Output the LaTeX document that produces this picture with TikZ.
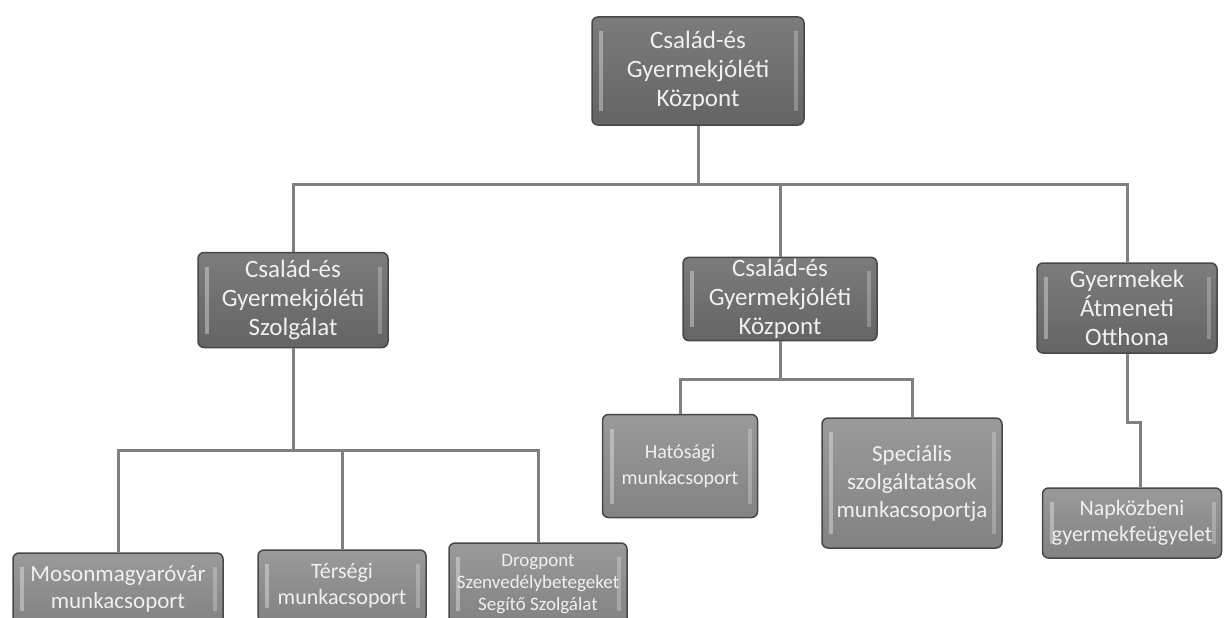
\documentclass[tikz,border=0pt]{standalone}
\usepackage{fontspec}
\setmainfont{Carlito}
\usepackage{tikz}
\definecolor{OrgEdge}{RGB}{72,72,72}
\definecolor{OrgDark}{RGB}{100,100,100}
\definecolor{OrgDarkTop}{RGB}{124,124,124}
\definecolor{OrgLight}{RGB}{130,130,130}
\definecolor{OrgLightTop}{RGB}{154,154,154}
\definecolor{OrgLine}{RGB}{128,128,128}
\definecolor{OrgText}{RGB}{240,240,240}

\begin{document}
\begin{tikzpicture}[x=1pt,y=-1pt,
    gloss/.style={path picture={
      \fill[white,opacity=.35,sharp corners] ([xshift=7pt,yshift=-14pt]path picture bounding box.north west)
        rectangle ([xshift=11pt,yshift=14pt]path picture bounding box.south west);
      \fill[white,opacity=.25,sharp corners] ([xshift=-10pt,yshift=-14pt]path picture bounding box.north east)
        rectangle ([xshift=-6pt,yshift=14pt]path picture bounding box.south east);}},
    unitbox/.style={gloss,draw=OrgEdge,line width=1.5pt,rounded corners=6pt,top color=OrgDarkTop,bottom color=OrgDark,
      text=OrgText,align=center,inner sep=2pt,font=\fontsize{25}{29}\selectfont},
    groupbox/.style={gloss,draw=OrgEdge,line width=1.5pt,rounded corners=6pt,top color=OrgLightTop,bottom color=OrgLight,
      text=OrgText,align=center,inner sep=2pt,font=\fontsize{22}{26}\selectfont},
    conn/.style={draw=OrgLine,line width=3pt}]
      \useasboundingbox[fill=white] (0,0) rectangle (1226,618);
      % top level
      \node[unitbox,minimum width=212pt,minimum height=108pt] (kozpont) at (698,71) {Család-és\\Gyermekjóléti\\Központ};
      % second level
      \node[unitbox,minimum width=190pt,minimum height=95pt] (szolg) at (293,300) {Család-és\\Gyermekjóléti\\Szolgálat};
      \node[unitbox,minimum width=194pt,minimum height=82pt] (kozpont2) at (780,299) {Család-és\\Gyermekjóléti\\Központ};
      \node[unitbox,minimum width=180pt,minimum height=90pt] (otthon) at (1127,308) {Gyermekek\\Átmeneti\\Otthona};
      % third level
      \node[groupbox,minimum width=210pt,minimum height=72pt,font=\fontsize{23}{27}\selectfont] (moson) at (118,589) {Mosonmagyaróvár\\munkacsoport};
      \node[groupbox,minimum width=168pt,minimum height=72pt] (terseg) at (342,586) {Térségi\\munkacsoport};
      \node[groupbox,minimum width=178pt,minimum height=82pt,font=\fontsize{19}{22}\selectfont] (drog) at (538,584) {Drogpont\\Szenvedélybetegeket\\Segítő Szolgálat};
      \node[groupbox,minimum width=155pt,minimum height=103pt,font=\fontsize{20}{26}\selectfont] (hatos) at (680,466) {Hatósági\\munkacsoport};
      \node[groupbox,minimum width=180pt,minimum height=130pt,font=\fontsize{23}{28}\selectfont] (specal) at (912,483) {Speciális\\szolgáltatások\\munkacsoportja};
      \node[groupbox,minimum width=179pt,minimum height=70pt] (napkoz) at (1132,523) {Napközbeni\\gyermekfeügyelet};
      % connectors
      \draw[conn] (kozpont.south) -- ++(0,59) -| (szolg.north);
      \draw[conn] (kozpont.south) -- ++(0,59) -| (kozpont2.north);
      \draw[conn] (kozpont.south) -- ++(0,59) -| (otthon.north);
      \draw[conn] (szolg.south) -- ++(0,102) -| (moson.north);
      \draw[conn] (szolg.south) -- ++(0,102) -| (terseg.north);
      \draw[conn] (szolg.south) -- ++(0,102) -| (drog.north);
      \draw[conn] (kozpont2.south) -- ++(0,38) -| (hatos.north);
      \draw[conn] (kozpont2.south) -- ++(0,38) -| (specal.north);
      \draw[conn] (otthon.south) -- ++(0,69) -| ([xshift=8pt]napkoz.north);
\end{tikzpicture}
\end{document}
